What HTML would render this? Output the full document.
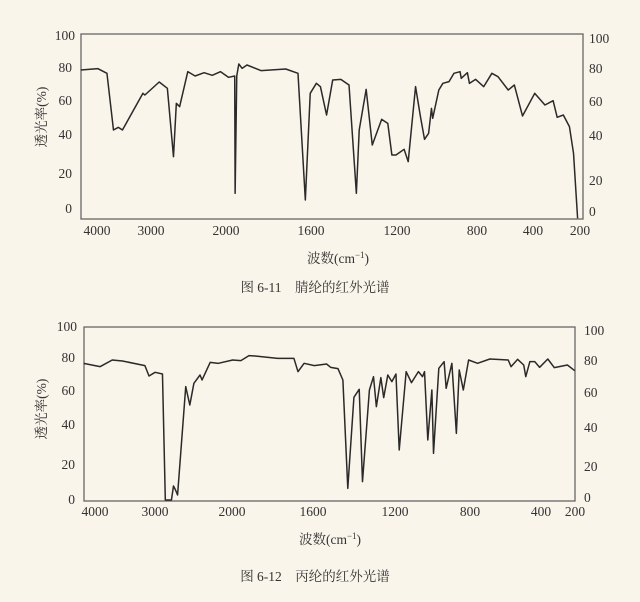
<!DOCTYPE html>
<html><head><meta charset="utf-8"><style>
html,body{margin:0;padding:0;background:#f9f5eb;}
svg{display:block;}
text{font-family:"Liberation Serif","Noto Serif CJK SC",serif;fill:#333;font-size:13.5px;}
polyline{vector-effect:non-scaling-stroke;}
</style></head><body>
<svg width="640" height="602" viewBox="0 0 640 602" xmlns="http://www.w3.org/2000/svg">
<rect width="640" height="602" fill="#f9f5eb"/>
<!-- top chart -->
<rect x="81" y="34" width="502" height="185" fill="none" stroke="#666" stroke-width="1.3"/>
<g transform="translate(0,20) scale(0.4082,0.3333)">
<polyline fill="none" stroke="#2a2a2a" stroke-width="1.5" stroke-linejoin="round" points="198,150 240,146 262,160 278,330 290,322 300,330 350,220 355,225 390,186 410,205 425,410 432,250 440,260 460,155 478,168 500,158 520,166 540,155 560,172 575,168 576,520 580,168 585,132 593,145 605,135 640,152 700,147 730,160 748,540 760,220 775,190 785,200 800,285 815,180 835,178 855,195 873,520 880,330 897,208 912,375 935,298 950,310 960,405 970,405 990,388 1000,425 1018,200 1030,290 1040,358 1050,340 1057,265 1060,295 1075,210 1085,190 1100,185 1112,160 1127,155 1130,175 1145,158 1150,190 1165,178 1185,200 1205,160 1220,170 1245,210 1260,195 1280,288 1310,220 1335,255 1355,242 1365,292 1380,285 1395,320 1405,400 1415,595"/>
</g>
<g text-anchor="end">
<text x="75" y="40">100</text><text x="72" y="72">80</text><text x="72" y="105">60</text><text x="72" y="139">40</text><text x="72" y="178">20</text><text x="72" y="213">0</text>
</g>
<g text-anchor="start">
<text x="589" y="43">100</text><text x="589" y="73">80</text><text x="589" y="106">60</text><text x="589" y="140">40</text><text x="589" y="185">20</text><text x="589" y="216">0</text>
</g>
<g text-anchor="middle">
<text x="97" y="235">4000</text><text x="151" y="235">3000</text><text x="226" y="235">2000</text><text x="311" y="235">1600</text><text x="397" y="235">1200</text><text x="477" y="235">800</text><text x="533" y="235">400</text><text x="580" y="235">200</text>
<text x="338" y="263">波数(cm<tspan font-size="9" dy="-5">−1</tspan><tspan dy="5">)</tspan></text>
<text x="315" y="292" font-size="14">图 6-11　腈纶的红外光谱</text>
</g>
<text transform="translate(46,117) rotate(-90)" text-anchor="middle">透光率(%)</text>

<!-- bottom chart -->
<rect x="84" y="327" width="491" height="174" fill="none" stroke="#666" stroke-width="1.3"/>
<g transform="translate(0,310) scale(0.4082,0.3333)">
<polyline fill="none" stroke="#2a2a2a" stroke-width="1.5" stroke-linejoin="round" points="205,160 245,170 275,150 300,153 355,167 365,198 380,187 398,192 405,570 420,570 425,528 430,540 435,555 455,230 465,285 475,220 490,195 495,210 515,157 535,160 570,150 590,152 610,137 625,138 680,145 720,145 730,185 745,160 770,167 800,162 810,172 828,176 840,210 852,535 867,262 880,238 888,515 905,240 915,200 922,290 933,203 940,263 950,195 960,215 970,192 978,420 995,185 1008,218 1025,185 1035,200 1040,185 1048,390 1058,240 1062,430 1075,175 1088,155 1093,235 1107,160 1118,370 1125,180 1135,240 1148,150 1170,160 1200,147 1245,150 1252,170 1268,148 1283,165 1288,200 1298,155 1310,155 1322,172 1342,147 1358,173 1390,165 1408,182"/>
</g>
<g text-anchor="end">
<text x="77" y="331">100</text><text x="75" y="362">80</text><text x="75" y="395">60</text><text x="75" y="429">40</text><text x="75" y="469">20</text><text x="75" y="504">0</text>
</g>
<g text-anchor="start">
<text x="584" y="335">100</text><text x="584" y="365">80</text><text x="584" y="397">60</text><text x="584" y="432">40</text><text x="584" y="471">20</text><text x="584" y="502">0</text>
</g>
<g text-anchor="middle">
<text x="95" y="516">4000</text><text x="155" y="516">3000</text><text x="232" y="516">2000</text><text x="313" y="516">1600</text><text x="395" y="516">1200</text><text x="470" y="516">800</text><text x="541" y="516">400</text><text x="575" y="516">200</text>
<text x="330" y="544">波数(cm<tspan font-size="9" dy="-5">−1</tspan><tspan dy="5">)</tspan></text>
<text x="315" y="581" font-size="14">图 6-12　丙纶的红外光谱</text>
</g>
<text transform="translate(46,409) rotate(-90)" text-anchor="middle">透光率(%)</text>
</svg>
</body></html>
